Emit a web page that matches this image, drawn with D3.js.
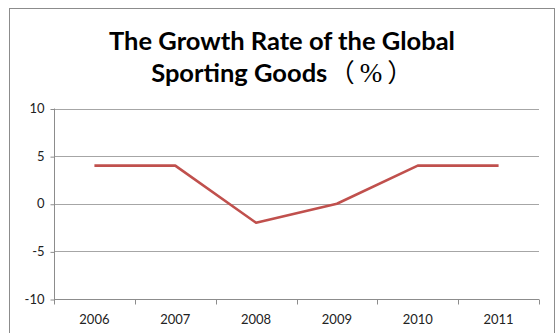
<!DOCTYPE html>
<html>
<head>
<meta charset="utf-8">
<script src="https://cdn.jsdelivr.net/npm/d3@7"></script>
<style>
  html, body { margin: 0; padding: 0; background: #fff; }
  svg { display: block; }
</style>
</head>
<body>
<svg id="chart" width="558" height="333"></svg>
<script>
// Growth rate of global sporting goods, by year (%)
const years = ["2006", "2007", "2008", "2009", "2010", "2011"];
const growthRate = [4, 4, -2, 0, 4, 4];
const yTicks = [-10, -5, 0, 5, 10];
const titleLine1 = "The Growth Rate of the Global";
const titleLine2 = "Sporting Goods";
const titleUnit = ["（", "%", "）"];

const svg = d3.select("#chart");
const plot = { left: 54, right: 539, top: 108.5, bottom: 299 };
const font = "Lato, 'Open Sans', sans-serif";
const cjk = "'Noto Sans CJK SC', sans-serif";

// outer chart frame
svg.append("rect")
  .attr("x", 9.5).attr("y", 8.5)
  .attr("width", 545).attr("height", 340)
  .attr("fill", "#fff").attr("stroke", "#8c8c8c").attr("stroke-width", 1);

// title, two centred lines
const title = svg.append("g")
  .attr("font-family", font).attr("font-weight", "bold")
  .attr("font-size", 25.5).attr("fill", "#000");
title.append("text")
  .attr("x", 282).attr("y", 50).attr("text-anchor", "middle")
  .text(titleLine1);
const t2 = title.append("text")
  .attr("x", 282).attr("y", 82).attr("text-anchor", "middle");
t2.append("tspan").text(titleLine2);
t2.append("tspan").attr("font-family", cjk).attr("font-weight", "normal")
  .attr("dx", 2).text(titleUnit[0]);
t2.append("tspan").attr("font-family", "'Liberation Serif', serif").attr("font-weight", "normal")
  .attr("font-size", 27).attr("dx", 5).text(titleUnit[1]);
t2.append("tspan").attr("font-family", cjk).attr("font-weight", "normal")
  .attr("dx", 5).text(titleUnit[2]);

const x = d3.scaleBand().domain(years).range([plot.left, plot.right]);
const y = d3.scaleLinear().domain([-10, 10]).range([plot.bottom, plot.top]);

// horizontal gridlines
svg.append("g").selectAll("line").data(yTicks.filter(t => t !== -10)).join("line")
  .attr("x1", plot.left).attr("x2", plot.right)
  .attr("y1", d => Math.round(y(d)) + 0.5).attr("y2", d => Math.round(y(d)) + 0.5)
  .attr("stroke", "#a6a6a6").attr("stroke-width", 1);

// y axis
const yAxis = svg.append("g")
  .attr("transform", `translate(${plot.left + 0.5},0)`)
  .call(d3.axisLeft(y).tickValues(yTicks).tickSize(4).tickPadding(6)
    .tickFormat(d => String(d)));
yAxis.selectAll("path, line").attr("stroke", "#8c8c8c");
yAxis.selectAll(".tick line").attr("transform", "translate(0,0.5)");
yAxis.selectAll("text")
  .attr("font-family", font).attr("font-size", 13).attr("fill", "#222");
yAxis.select(".domain").attr("d", `M0,${y(10)}V${y(-10)}`);

// x axis with ticks on category boundaries
const xAxisG = svg.append("g")
  .attr("transform", `translate(0,${Math.round(plot.bottom) + 0.5})`);
xAxisG.append("line")
  .attr("x1", plot.left).attr("x2", plot.right)
  .attr("stroke", "#8c8c8c");
const boundaries = years.map(d => x(d)).concat([x(years[years.length - 1]) + x.bandwidth()]);
xAxisG.selectAll("line.tick").data(boundaries).join("line")
  .attr("class", "tick")
  .attr("x1", d => Math.round(d) + 0.5).attr("x2", d => Math.round(d) + 0.5)
  .attr("y1", 0).attr("y2", 5)
  .attr("stroke", "#8c8c8c");
xAxisG.selectAll("text").data(years).join("text")
  .attr("x", d => x(d) + x.bandwidth() / 2)
  .attr("y", 24)
  .attr("text-anchor", "middle")
  .attr("font-family", font).attr("font-size", 13).attr("fill", "#222")
  .text(d => d);

// data line
const line = d3.line()
  .x((d, i) => x(years[i]) + x.bandwidth() / 2)
  .y(d => y(d));
svg.append("path")
  .datum(growthRate)
  .attr("d", line)
  .attr("fill", "none")
  .attr("stroke", "#c0504d")
  .attr("stroke-width", 2.6)
  .attr("stroke-linejoin", "round");
</script>
</body>
</html>
